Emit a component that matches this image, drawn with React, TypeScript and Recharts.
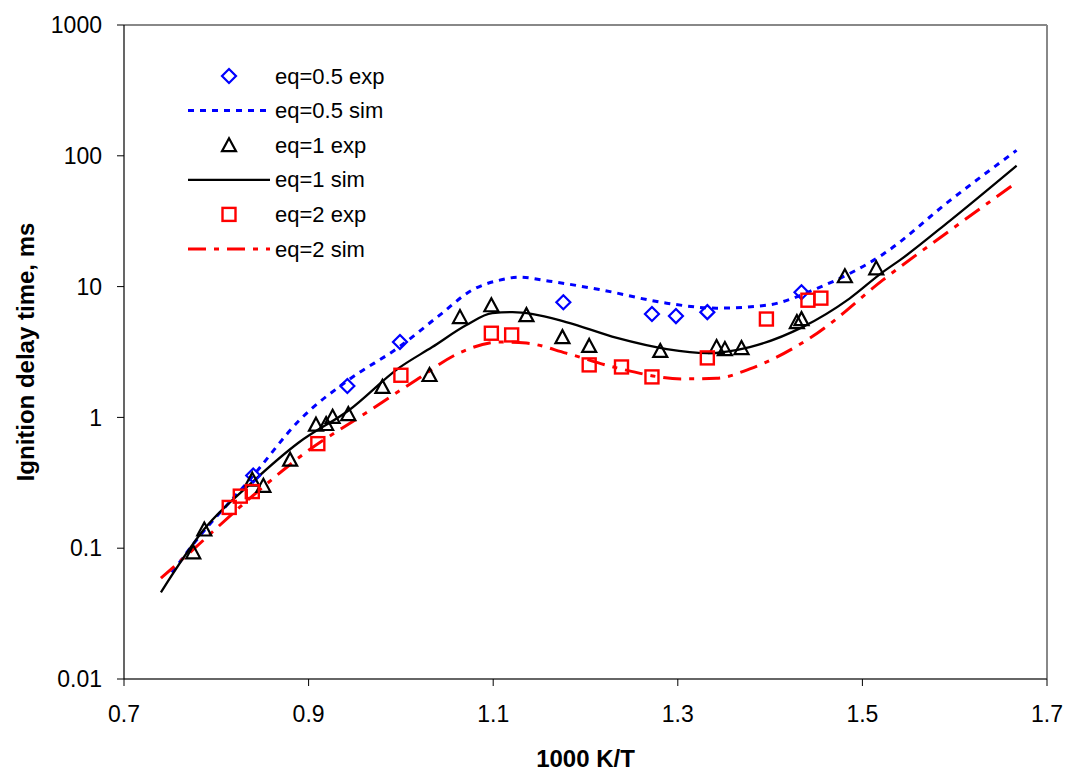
import {
  ComposedChart,
  Line,
  Scatter,
  XAxis,
  YAxis,
  ReferenceLine,
  Legend,
} from 'recharts';

// --- data ---
const xTicks = [0.7, 0.9, 1.1, 1.3, 1.5, 1.7];
const yTicks = [0.01, 0.1, 1, 10, 100, 1000];

// eq=0.5 experiments
const exp05X = [0.84, 0.942, 0.999, 1.176, 1.272, 1.298, 1.332, 1.434];
const exp05Y = [0.36, 1.74, 3.77, 7.6, 6.17, 5.95, 6.38, 9.06];

// eq=1 experiments
const exp1X = [
  0.775, 0.787, 0.839, 0.851, 0.88, 0.908, 0.919, 0.926, 0.943, 0.98, 1.031, 1.064,
  1.098, 1.136, 1.175, 1.204, 1.281, 1.342, 1.351, 1.369, 1.429, 1.434, 1.481, 1.515,
];
const exp1Y = [
  0.093, 0.139, 0.334, 0.3, 0.475, 0.88, 0.89, 1.01, 1.06, 1.71, 2.11, 5.85,
  7.2, 6.05, 4.11, 3.52, 3.22, 3.45, 3.33, 3.39, 5.36, 5.64, 12.0, 13.8,
];

// eq=2 experiments
const exp2X = [0.814, 0.826, 0.839, 0.91, 1.0, 1.098, 1.12, 1.204, 1.239, 1.272, 1.332, 1.396, 1.441, 1.455];
const exp2Y = [0.205, 0.25, 0.271, 0.63, 2.1, 4.4, 4.27, 2.52, 2.43, 2.04, 2.85, 5.65, 7.87, 8.16];

// simulations
const sim05X = [0.752, 0.773, 0.839, 0.89, 0.944, 0.998, 1.042, 1.077, 1.107, 1.128, 1.161, 1.215, 1.288, 1.342, 1.396, 1.451, 1.522, 1.595, 1.667];
const sim05Y = [0.065, 0.103, 0.352, 0.95, 1.95, 3.45, 6.05, 9.4, 11.2, 11.8, 11.0, 9.5, 7.47, 6.84, 7.2, 9.7, 17.6, 45.6, 110];

const sim1X = [0.74, 0.787, 0.839, 0.889, 0.944, 0.998, 1.034, 1.071, 1.099, 1.121, 1.143, 1.179, 1.234, 1.288, 1.331, 1.378, 1.435, 1.486, 1.522, 1.541, 1.595, 1.667];
const sim1Y = [0.046, 0.14, 0.32, 0.64, 1.14, 2.39, 3.45, 5.08, 6.27, 6.38, 6.17, 5.36, 4.05, 3.33, 3.1, 3.45, 4.9, 8.1, 12.9, 16, 32, 84];

const sim2X = [0.74, 0.767, 0.839, 0.897, 0.962, 1.017, 1.063, 1.107, 1.136, 1.179, 1.234, 1.305, 1.342, 1.378, 1.451, 1.522, 1.595, 1.667];
const sim2Y = [0.059, 0.087, 0.25, 0.54, 1.08, 1.94, 3.1, 3.77, 3.7, 3.1, 2.39, 1.97, 1.99, 2.35, 4.4, 11.2, 26.9, 62.5];

const toPoints = (xs: number[], ys: number[]) => xs.map((x, i) => ({ x, y: ys[i] }));

const W = 1068;
const H = 771;
const FONT = '"Liberation Sans", Arial, sans-serif';

const BLUE = '#0000ff';
const RED = '#ff0000';
const BLACK = '#000000';

const DASH_05 = '6 6';
const DASH_2 = '18 8 5 8';

const Diamond = ({ cx, cy }: any) => {
  if (cx == null || cy == null) return null;
  return (
    <polygon
      points={`${cx},${cy - 7} ${cx + 7},${cy} ${cx},${cy + 7} ${cx - 7},${cy}`}
      fill="none"
      stroke={BLUE}
      strokeWidth={2.2}
    />
  );
};

const Triangle = ({ cx, cy }: any) => {
  if (cx == null || cy == null) return null;
  return (
    <polygon
      points={`${cx},${cy - 7} ${cx + 7},${cy + 6} ${cx - 7},${cy + 6}`}
      fill="none"
      stroke={BLACK}
      strokeWidth={2.2}
    />
  );
};

const Square = ({ cx, cy }: any) => {
  if (cx == null || cy == null) return null;
  return (
    <rect x={cx - 6.5} y={cy - 6.5} width={13} height={13} fill="none" stroke={RED} strokeWidth={2.4} />
  );
};

const legendRows = [
  { label: 'eq=0.5 exp', marker: 'diamond' },
  { label: 'eq=0.5 sim', stroke: BLUE, dash: DASH_05, width: 3 },
  { label: 'eq=1 exp', marker: 'triangle' },
  { label: 'eq=1 sim', stroke: BLACK, dash: undefined, width: 2.3 },
  { label: 'eq=2 exp', marker: 'square' },
  { label: 'eq=2 sim', stroke: RED, dash: DASH_2, width: 3 },
];

const LegendBox = () => {
  return (
    <svg width={240} height={210} style={{ display: 'block', overflow: 'visible' }}>
      {legendRows.map((row, i) => {
        const y = 20 + i * 34.6;
        let sym = null;
        if (row.marker === 'diamond') sym = <Diamond cx={49} cy={y} />;
        else if (row.marker === 'triangle') sym = <Triangle cx={49} cy={y} />;
        else if (row.marker === 'square') sym = <Square cx={49} cy={y} />;
        else
          sym = (
            <line x1={8} x2={90} y1={y} y2={y} stroke={row.stroke} strokeWidth={row.width} strokeDasharray={row.dash} />
          );
        return (
          <g key={row.label}>
            {sym}
            <text x={95} y={y} dominantBaseline="central" fontSize={22} fill="#000" fontFamily={FONT}>
              {row.label}
            </text>
          </g>
        );
      })}
    </svg>
  );
};

const YTitle = (props: any) => {
  const vb = props.viewBox || { x: 0, y: 25, width: 124, height: 654 };
  const cx = vb.x + 25;
  const cy = vb.y + vb.height / 2;
  return (
    <text
      x={cx}
      y={cy}
      transform={`rotate(-90 ${cx} ${cy})`}
      textAnchor="middle"
      dominantBaseline="central"
      fontSize={24}
      fontWeight="bold"
      fill="#000"
      fontFamily={FONT}
    >
      Ignition delay time, ms
    </text>
  );
};

export default function App() {
  const tickStyle = { fill: '#000', fontSize: 23, fontFamily: FONT };

  return (
    <div style={{ position: 'absolute', left: 0, top: 0, width: W, height: H, background: '#fff', fontFamily: FONT }}>
      <ComposedChart width={W} height={H} margin={{ top: 25, right: 21, bottom: 0, left: 0 }}>
        <XAxis
          type="number"
          dataKey="x"
          domain={[0.7, 1.7]}
          ticks={xTicks}
          allowDataOverflow
          tick={tickStyle}
          tickFormatter={(v: number) => v.toFixed(1)}
          tickSize={7}
          tickMargin={20}
          height={92}
          axisLine={{ stroke: '#333', strokeWidth: 1.5 }}
          tickLine={{ stroke: '#000' }}
          label={{
            value: '1000 K/T',
            position: 'insideBottom',
            offset: 4,
            style: { fontWeight: 'bold', fontSize: 24, fill: '#000', fontFamily: FONT },
          }}
        />
        <YAxis
          type="number"
          dataKey="y"
          scale="log"
          domain={[0.01, 1000]}
          ticks={yTicks}
          allowDataOverflow
          width={124}
          tick={tickStyle}
          tickFormatter={(v: number) => String(v)}
          tickSize={7}
          tickMargin={15}
          axisLine={{ stroke: '#000', strokeWidth: 1.2 }}
          tickLine={{ stroke: '#000' }}
          label={{ content: YTitle }}
        />

        {/* plot area frame (top / right) */}
        <ReferenceLine y={1000} stroke="#888" strokeWidth={2} />
        <ReferenceLine x={1.7} stroke="#888" strokeWidth={2} />

        <Line
          data={toPoints(sim05X, sim05Y)}
          dataKey="y"
          type="monotone"
          stroke={BLUE}
          strokeWidth={3}
          strokeDasharray={DASH_05}
          dot={false}
          activeDot={false}
          isAnimationActive={false}
          legendType="none"
        />
        <Line
          data={toPoints(sim2X, sim2Y)}
          dataKey="y"
          type="monotone"
          stroke={RED}
          strokeWidth={3}
          strokeDasharray={DASH_2}
          dot={false}
          activeDot={false}
          isAnimationActive={false}
          legendType="none"
        />
        <Line
          data={toPoints(sim1X, sim1Y)}
          dataKey="y"
          type="monotone"
          stroke={BLACK}
          strokeWidth={2.3}
          dot={false}
          activeDot={false}
          isAnimationActive={false}
          legendType="none"
        />

        <Scatter data={toPoints(exp05X, exp05Y)} dataKey="y" shape={Diamond} isAnimationActive={false} legendType="none" />
        <Scatter data={toPoints(exp1X, exp1Y)} dataKey="y" shape={Triangle} isAnimationActive={false} legendType="none" />
        <Scatter data={toPoints(exp2X, exp2Y)} dataKey="y" shape={Square} isAnimationActive={false} legendType="none" />

        <Legend
          layout="vertical"
          align="center"
          verticalAlign="middle"
          content={LegendBox}
          wrapperStyle={{ position: 'absolute', top: 56, left: 180, width: 240, height: 210 }}
        />
      </ComposedChart>
    </div>
  );
}
